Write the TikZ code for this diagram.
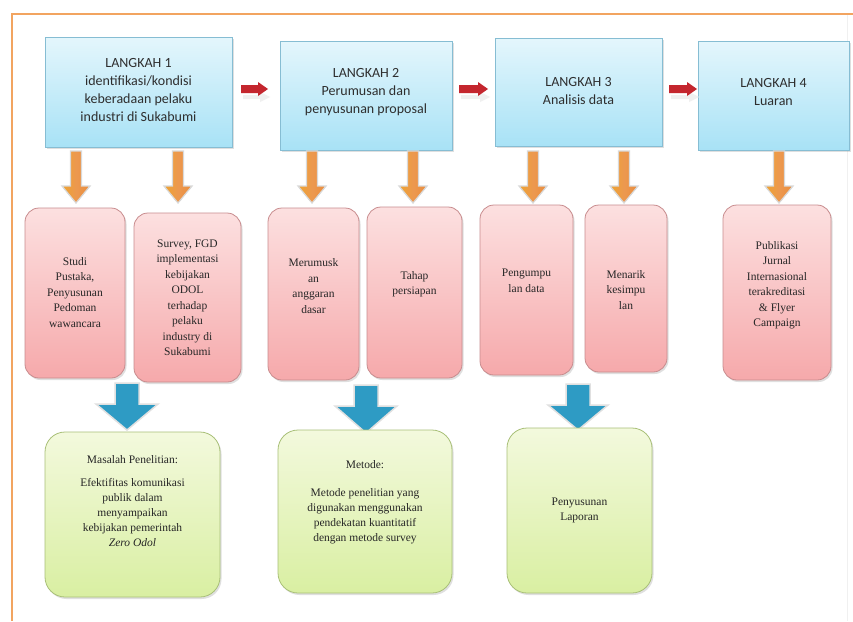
\documentclass[tikz,border=0pt]{standalone}
\usepackage{fontspec}
\setmainfont{Liberation Serif}
\newfontfamily\calib{Carlito}
\usetikzlibrary{shadows}
\definecolor{frameor}{HTML}{F2A460}
\definecolor{bluetop}{HTML}{E4F6FC}
\definecolor{bluebot}{HTML}{A8E2F6}
\definecolor{blueedge}{HTML}{86BDD3}
\definecolor{pinktop}{HTML}{FCE0E0}
\definecolor{pinkbot}{HTML}{F6A9AB}
\definecolor{pinkedge}{HTML}{C88C8E}
\definecolor{greentop}{HTML}{F3F9DD}
\definecolor{greenbot}{HTML}{D9EFA2}
\definecolor{greenedge}{HTML}{A9C078}
\definecolor{orarrow}{HTML}{EA8D3C}
\definecolor{blarrow}{HTML}{2E9BC4}
\definecolor{rdarrow}{HTML}{C4262E}
\definecolor{txt}{HTML}{2E2E2E}
\newcommand{\downarr}[7]{% style, x, ytop, yhead, ytip, halfshaft, halfhead
  \fill[#1] (#2-#6,#3) -- (#2+#6,#3) -- (#2+#6,#4) -- (#2+#7,#4) -- (#2,#5) -- (#2-#7,#4) -- (#2-#6,#4) -- cycle;}
\newcommand{\rightarr}[3]{% x1, x2, y
  \fill[black!6] (#1+2,#3+6) -- (#2-8,#3+6) -- (#2-8,#3+3) -- (#2+2,#3+8) -- (#2-8,#3+13) -- (#2-8,#3+10) -- (#1+2,#3+10) -- cycle;
  \fill[rdarrow] (#1,#3-4) -- (#2-10,#3-4) -- (#2-10,#3-7) -- (#2,#3) -- (#2-10,#3+7) -- (#2-10,#3+4) -- (#1,#3+4) -- cycle;}
\begin{document}
\begin{tikzpicture}[x=1pt,y=-1pt,
  bluebox/.style={draw=blueedge, line width=0.8pt, top color=bluetop, bottom color=bluebot, inner sep=0pt,
    drop shadow={opacity=0.25, shadow xshift=1.5pt, shadow yshift=-2pt}},
  pinkbox/.style={draw=pinkedge, line width=0.8pt, top color=pinktop, bottom color=pinkbot, rounded corners=14pt, inner sep=0pt,
    drop shadow={opacity=0.25, shadow xshift=1.5pt, shadow yshift=-2pt}},
  greenbox/.style={draw=greenedge, line width=0.8pt, top color=greentop, bottom color=greenbot, rounded corners=20pt, inner sep=0pt,
    drop shadow={opacity=0.25, shadow xshift=1.5pt, shadow yshift=-2pt}},
  bluetext/.style={text=txt, align=center, inner sep=0pt, font=\calib\fontsize{14}{18}\selectfont},
  pinktext/.style={text=black!85, align=center, inner sep=0pt, font=\fontsize{11.5}{15.5}\selectfont},
  greentext/.style={text=black!85, align=center, inner sep=0pt, font=\fontsize{11.5}{15}\selectfont},
  orar/.style={left color=orarrow!80!yellow, right color=orarrow, middle color=orarrow!90!white, draw=black!15, line width=1.2pt},
  blar/.style={fill=blarrow, draw=black!12, line width=1.5pt}
]
\useasboundingbox (0,0) rectangle (853,621);
\fill[white] (0,0) rectangle (853,621);
% frame
\draw[black!6, line width=1pt] (847,15) -- (847,621);
\draw[frameor, line width=2pt] (12,621) -- (12,14) -- (853,14);

% top blue boxes
\node[bluebox, minimum width=187, minimum height=110] (b1) at (138.5,92) {};
\node[bluebox, minimum width=172, minimum height=109] (b2) at (366,95.5) {};
\node[bluebox, minimum width=167, minimum height=108] (b3) at (578.5,92) {};
\node[bluebox, minimum width=151, minimum height=109] (b4) at (773.5,95.5) {};
\node[bluetext] (b1t) at (138.5,90) {LANGKAH 1\\identifikasi/kondisi\\keberadaan pelaku\\industri di Sukabumi};
\node[bluetext] (b2t) at (366,92.5) {LANGKAH 2\\Perumusan dan\\penyusunan proposal};
\node[bluetext] (b3t) at (578.5,91.5) {LANGKAH 3\\Analisis data};
\node[bluetext] (b4t) at (773.5,92.5) {LANGKAH 4\\Luaran};

% red arrows
\rightarr{241}{268}{89}
\rightarr{459}{488}{89}
\rightarr{669}{697}{89}

% orange arrows
\foreach \xx in {76,178,312,413,533,624,779}{
  \downarr{orar}{\xx}{151}{186}{203}{5.5}{14}
}

% pink boxes
\node[pinkbox, minimum width=100, minimum height=170] (p1) at (75,293) {};
\node[pinkbox, minimum width=107, minimum height=169] (p2) at (187.5,297.5) {};
\node[pinkbox, minimum width=91, minimum height=172] (p3) at (313.5,294) {};
\node[pinkbox, minimum width=95, minimum height=171] (p4) at (414.5,292.5) {};
\node[pinkbox, minimum width=93, minimum height=170] (p5) at (526.5,290) {};
\node[pinkbox, minimum width=82, minimum height=167] (p6) at (626,288.5) {};
\node[pinkbox, minimum width=108, minimum height=175] (p7) at (777,292.5) {};
\node[pinktext] (p1t) at (75,292.5) {Studi\\Pustaka,\\Penyusunan\\Pedoman\\wawancara};
\node[pinktext] (p2t) at (187.5,297.5) {Survey, FGD\\implementasi\\kebijakan\\ODOL\\terhadap\\pelaku\\industry di\\Sukabumi};
\node[pinktext] (p3t) at (313.5,286) {Merumusk\\an\\anggaran\\dasar};
\node[pinktext] (p4t) at (414.5,284) {Tahap\\persiapan};
\node[pinktext] (p5t) at (526.5,281) {Pengumpu\\lan data};
\node[pinktext] (p6t) at (626,290) {Menarik\\kesimpu\\lan};
\node[pinktext] (p7t) at (777,285) {Publikasi\\Jurnal\\Internasional\\terakreditasi\\\& Flyer\\Campaign};

% blue arrows
\downarr{blar}{127}{383}{404}{430}{12}{31}
\downarr{blar}{366}{385}{406}{433}{12}{31}
\downarr{blar}{578}{384}{405}{430}{12}{30}

% green boxes
\node[greenbox, minimum width=175, minimum height=165] (g1) at (132.5,514.5) {};
\node[greenbox, minimum width=174, minimum height=163] (g2) at (365,511.5) {};
\node[greenbox, minimum width=145, minimum height=165] (g3) at (579.5,510.5) {};
\node[greentext] (g1t) at (132.5,501) {Masalah Penelitian:\\[8pt]Efektifitas komunikasi\\publik dalam\\menyampaikan\\kebijakan pemerintah\\\textit{Zero Odol}};
\node[greentext] (g2t) at (365,502) {Metode:\\[13pt]Metode penelitian yang\\digunakan menggunakan\\pendekatan kuantitatif\\dengan metode survey};
\node[greentext] (g3t) at (579.5,510) {Penyusunan\\Laporan};
\end{tikzpicture}
\end{document}
